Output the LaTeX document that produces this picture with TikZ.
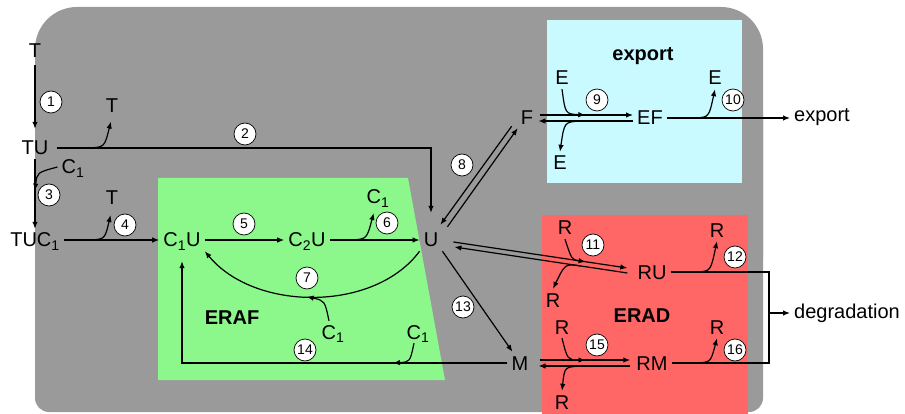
\documentclass[tikz,border=0pt]{standalone}
\usepackage{fontspec}
\setmainfont{Liberation Sans}
\usetikzlibrary{arrows.meta,calc}
\definecolor{bggray}{RGB}{154,154,154}
\definecolor{erafgreen}{RGB}{140,248,140}
\definecolor{expcyan}{RGB}{200,250,255}
\definecolor{eradred}{RGB}{255,102,102}
\begin{document}
\begin{tikzpicture}[x=1pt,y=-1pt,
  sp/.style={inner sep=4pt, text height=14pt, text depth=0pt, font=\fontsize{20}{24}\selectfont},
  lbl/.style={inner sep=2pt, text height=14pt, text depth=0pt, font=\fontsize{20}{24}\selectfont\bfseries},
  num/.style={circle, draw=black, fill=white, line width=0.7pt, minimum size=22pt, inner sep=0pt, font=\fontsize{14}{15}\selectfont},
  ln/.style={line width=1.2pt},
  arr/.style={ln, -{Latex[length=7pt,width=5.5pt]}},
]
\useasboundingbox (0,0) rectangle (905,414);
% background regions
\fill[bggray, rounded corners=42pt] (35,7) rectangle (763,300);
\fill[bggray, rounded corners=14pt] (35,100) rectangle (763,412);
\fill[erafgreen] (158,178) -- (408,178) -- (445,380) -- (158,380) -- cycle;
\fill[expcyan] (547,20) rectangle (742,183);
\fill[eradred] (542,215) rectangle (748,414);

% species
\node[sp] (T0) at (35,51) {T};
\node[sp] (TU) at (35,148) {TU};
\node[sp] (T1) at (112,106) {T};
\node[sp] (C13) at (73,167) {C\textsubscript{1}};
\node[sp] (TUC) at (35,240) {TUC\textsubscript{1}};
\node[sp] (T4) at (112,198) {T};
\node[sp] (C1U) at (182,240) {C\textsubscript{1}U};
\node[sp] (C2U) at (307,240) {C\textsubscript{2}U};
\node[sp] (C16) at (378,197) {C\textsubscript{1}};
\node[sp] (U) at (431,240) {U};
\node[sp] (C17) at (333,332) {C\textsubscript{1}};
\node[sp] (C114) at (418,332) {C\textsubscript{1}};
\node[lbl] (eraf) at (232,317) {ERAF};
\node[sp] (F) at (527,118) {F};
\node[sp] (E9a) at (562,78) {E};
\node[sp] (E9b) at (560,163) {E};
\node[sp] (EF) at (650,118) {EF};
\node[sp] (E10) at (715,78) {E};
\node[sp, anchor=west] (exp) at (790,115) {export};
\node[lbl] (explbl) at (643,54) {export};
\node[sp] (R11a) at (565,228) {R};
\node[sp] (R11b) at (553,300) {R};
\node[sp] (RU) at (652,272) {RU};
\node[sp] (R12) at (717,230) {R};
\node[lbl] (erad) at (642,315) {ERAD};
\node[sp] (M) at (520,363) {M};
\node[sp] (R15a) at (562,327) {R};
\node[sp] (R15b) at (562,402) {R};
\node[sp] (RM) at (652,363) {RM};
\node[sp] (R16) at (717,327) {R};
\node[sp, anchor=west] (deg) at (790,311) {degradation};

% main reactions
\draw[arr, shorten <=3pt, shorten >=8pt] (T0.south) -- (TU.north);
\draw[arr] (TU.south) -- (TUC.north);
\draw[arr, shorten <=4pt, shorten >=16pt] (TU.east) -| (U.north);
\draw[arr] (TUC.east) -- (C1U.west);
\draw[arr] (C1U.east) -- (C2U.west);
\draw[arr] (C2U.east) -- (U.west);
\draw[arr] (U.south west) .. controls (375,312) and (255,312) .. (C1U.south east) coordinate[pos=0.53] (j7);
\draw[arr, shorten >=10pt] (M.west) -| (C1U.south);

% branches (left part)
\coordinate (j1) at ($(TU.east)+(37,0)$);
\draw[arr, shorten >=4.5pt] (j1) .. controls ($(j1)+(15,-1)$) .. (T1.south);
\coordinate (j3) at ($(TU.south)!0.45!(TUC.north)$);
\draw[arr] (C13.west) .. controls ($(j3)+(2,-18)$) .. (j3);
\coordinate (j4) at ($(TUC.east)+(27,0)$);
\draw[arr, shorten >=6pt] (j4) .. controls ($(j4)+(14,-1)$) .. (T4.south);
\coordinate (j6) at ($(C2U.east)+(22,0)$);
\draw[arr, shorten >=5pt] (j6) .. controls ($(j6)+(15,-1)$) .. ($(C16.south)+(-3,0)$);
\draw[arr] ($(C17.north)+(-4,0)$) .. controls ($(j7)+(18,4)$) .. (j7);
\coordinate (j14) at (393,363);
\draw[arr] ($(C114.south)+(-4,0)$) .. controls ($(j14)+(17,-1)$) .. (j14);

% U <-> F
\draw[arr] ($(U.north east)+(5,-2)$) -- ($(F.south west)+(1,-1)$);
\draw[arr] ($(F.south west)+(-5,-3)$) -- ($(U.north east)+(-2,-4)$);

% export
\draw[arr] ($(F.east)+(3,-3)$) -- ($(EF.west)+(0,-3)$);
\draw[arr] ($(EF.west)+(0,3)$) -- ($(F.east)+(1,3)$);
\coordinate (j9a) at ($(F.east)+(48,-3)$);
\draw[arr] (E9a.south) .. controls ($(j9a)+(-20,-1)$) .. (j9a);
\coordinate (j9b) at ($(F.east)+(43,3)$);
\draw[arr] (j9b) .. controls ($(j9b)+(-16,1)$) .. (E9b.north);
\coordinate (j10) at ($(EF.east)+(29,0)$);
\draw[arr] (j10) .. controls ($(j10)+(13,-1)$) .. (E10.south);
\draw[arr] (EF.east) -- (EF.east -| exp.west);

% U <-> RU
\coordinate (uA) at ($(U.east)+(11,2)$);
\coordinate (ruA) at ($(RU.west)+(-6,-4)$);
\coordinate (ruB) at ($(RU.west)+(-6,1)$);
\coordinate (uB) at ($(U.east)+(12,7)$);
\draw[arr] (uA) -- (ruA);
\draw[arr] (ruB) -- (uB);
\coordinate (j11a) at ($(uA)!0.76!(ruA)$);
\draw[arr] (R11a.south) .. controls ($(uA)!0.68!(ruA)$) .. (j11a);
\coordinate (j11b) at ($(ruB)!0.27!(uB)$);
\draw[arr] (j11b) .. controls ($(ruB)!0.36!(uB)$) .. (R11b.north);
\coordinate (j12) at ($(RU.east)+(27,0)$);
\draw[arr] (j12) .. controls ($(j12)+(13,-1)$) .. (R12.south);

% U -> M, M <-> RM
\draw[arr] (U.south east) -- ($(M.north west)+(5,0)$);
\draw[arr] ($(M.east)+(7,-3)$) -- ($(RM.west)+(-2,-3)$);
\draw[arr] ($(RM.west)+(-2,3)$) -- ($(M.east)+(6,3)$);
\coordinate (j15a) at ($(M.east)+(53,-3)$);
\draw[arr] (R15a.south) .. controls ($(j15a)+(-18,0)$) .. (j15a);
\coordinate (j15b) at ($(M.east)+(48,3)$);
\draw[arr] (j15b) .. controls ($(j15b)+(-16,1)$) .. (R15b.north);
\coordinate (j16) at ($(RM.east)+(26,0)$);
\draw[arr] (j16) .. controls ($(j16)+(13,-1)$) .. (R16.south);

% degradation
\coordinate (jr) at (769,313);
\draw[ln] (RU.east) -| (jr) |- (RM.east);
\draw[arr] (jr) -- (jr -| deg.west);

% reaction numbers
\node[num] (n1) at (51,102) {1};
\node[num] (n2) at (245,134) {2};
\node[num] (n3) at (49,195) {3};
\node[num] (n4) at (125,225) {4};
\node[num] (n5) at (244,224) {5};
\node[num] (n6) at (387,223) {6};
\node[num] (n7) at (307,278) {7};
\node[num] (n8) at (462,165) {8};
\node[num] (n9) at (597,100) {9};
\node[num] (n10) at (733,100) {10};
\node[num] (n11) at (593,245) {11};
\node[num] (n12) at (735,257) {12};
\node[num] (n13) at (463,307) {13};
\node[num] (n14) at (305,350) {14};
\node[num] (n15) at (597,345) {15};
\node[num] (n16) at (735,350) {16};
\end{tikzpicture}
\end{document}
